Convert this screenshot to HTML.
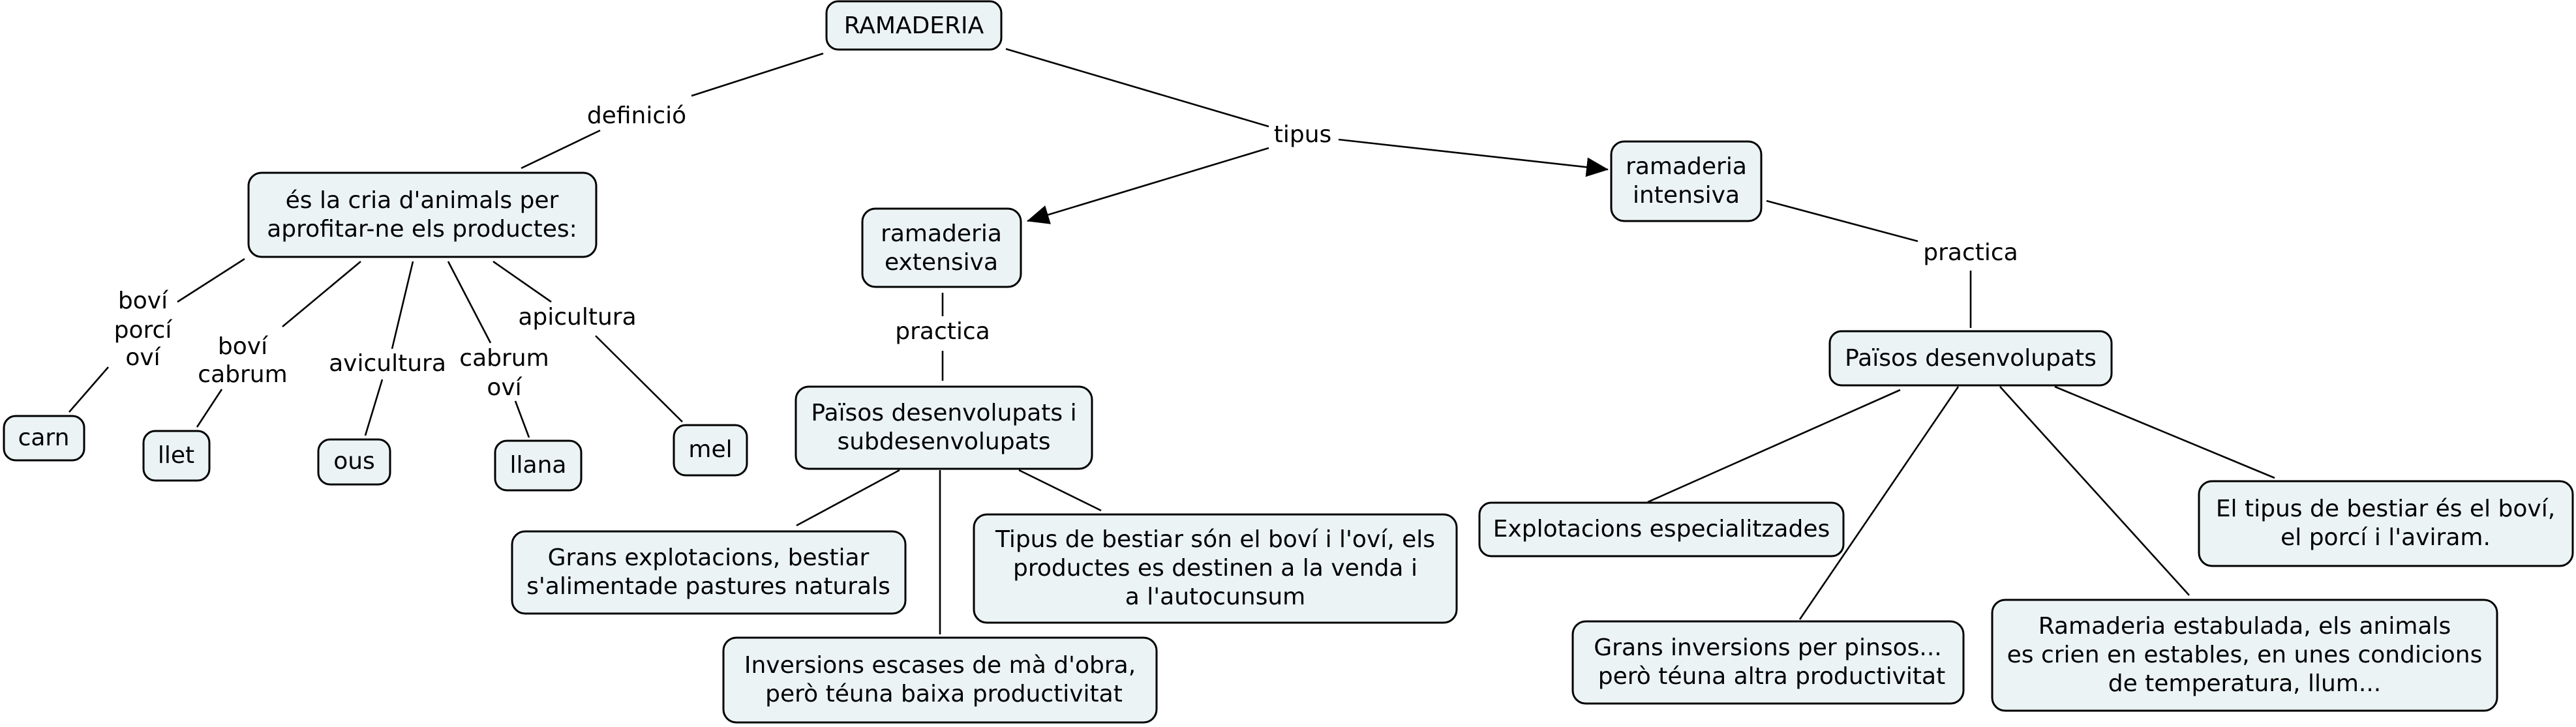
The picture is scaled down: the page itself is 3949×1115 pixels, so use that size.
<!DOCTYPE html>
<html>
<head>
<meta charset="utf-8">
<style>
  html, body { margin:0; padding:0; background:#ffffff; }
  body { width:3949px; height:1115px; overflow:hidden; }
  svg { display:block; }
  text { font-family: "DejaVu Sans", "Liberation Sans", sans-serif; font-size:36px; fill:#000; text-anchor:middle; }
  .box { fill:#ebf3f5; stroke:#000; stroke-width:3; }
  .ln { stroke:#000; stroke-width:2.6; fill:none; }
</style>
</head>
<body>
<svg width="3949" height="1115" viewBox="0 0 3949 1115" xmlns="http://www.w3.org/2000/svg">
  <defs>
    <marker id="arr" markerUnits="userSpaceOnUse" markerWidth="34" markerHeight="30" refX="33" refY="15" orient="auto">
      <path d="M0,0 L34,15 L0,30 z" fill="#000"/>
    </marker>
  </defs>

  <!-- connectors -->
  <line class="ln" x1="1262" y1="82" x2="1060" y2="147"/>
  <line class="ln" x1="920" y1="200" x2="799" y2="258"/>
  <line class="ln" x1="1542" y1="75" x2="1945" y2="194"/>
  <line class="ln" x1="1945" y1="227" x2="1575" y2="339" marker-end="url(#arr)"/>
  <line class="ln" x1="2052" y1="214" x2="2465" y2="260" marker-end="url(#arr)"/>

  <line class="ln" x1="1445" y1="449" x2="1445" y2="485"/>
  <line class="ln" x1="1445" y1="538" x2="1445" y2="584"/>
  <line class="ln" x1="2708" y1="308" x2="2940" y2="370"/>
  <line class="ln" x1="3021" y1="415" x2="3021" y2="503"/>

  <line class="ln" x1="1379" y1="721" x2="1221" y2="806"/>
  <line class="ln" x1="1441" y1="721" x2="1441" y2="973"/>
  <line class="ln" x1="1562" y1="721" x2="1688" y2="783"/>

  <line class="ln" x1="2913" y1="598" x2="2526" y2="770"/>
  <line class="ln" x1="3002" y1="593" x2="2759" y2="950"/>
  <line class="ln" x1="3066" y1="593" x2="3356" y2="913"/>
  <line class="ln" x1="3150" y1="593" x2="3487" y2="733"/>

  <line class="ln" x1="375" y1="397" x2="272" y2="463"/>
  <line class="ln" x1="166" y1="563" x2="106" y2="632"/>
  <line class="ln" x1="553" y1="401" x2="433" y2="501"/>
  <line class="ln" x1="340" y1="597" x2="302" y2="655"/>
  <line class="ln" x1="633" y1="401" x2="601" y2="535"/>
  <line class="ln" x1="586" y1="582" x2="560" y2="668"/>
  <line class="ln" x1="687" y1="401" x2="752" y2="526"/>
  <line class="ln" x1="790" y1="615" x2="811" y2="671"/>
  <line class="ln" x1="756" y1="401" x2="845" y2="463"/>
  <line class="ln" x1="913" y1="515" x2="1046" y2="647"/>

  <!-- boxes -->
  <rect class="box" x="1267" y="2" width="268" height="74" rx="18"/>
  <text x="1401" y="51">RAMADERIA</text>

  <rect class="box" x="381" y="265" width="533" height="129" rx="20"/>
  <text x="647" y="319">és la cria d'animals per</text>
  <text x="647" y="363">aprofitar-ne els productes:</text>

  <rect class="box" x="1322" y="320" width="243" height="120" rx="20"/>
  <text x="1443" y="370">ramaderia</text>
  <text x="1443" y="414">extensiva</text>

  <rect class="box" x="2470" y="217" width="230" height="122" rx="20"/>
  <text x="2585" y="267">ramaderia</text>
  <text x="2585" y="311">intensiva</text>

  <rect class="box" x="1220" y="593" width="454" height="126" rx="20"/>
  <text x="1447" y="645">Països desenvolupats i</text>
  <text x="1447" y="689">subdesenvolupats</text>

  <rect class="box" x="2805" y="508" width="432" height="83" rx="18"/>
  <text x="3021" y="561">Països desenvolupats</text>

  <rect class="box" x="785" y="815" width="603" height="126" rx="20"/>
  <text x="1086" y="867">Grans explotacions, bestiar</text>
  <text x="1086" y="911">s'alimentade pastures naturals</text>

  <rect class="box" x="1109" y="978" width="664" height="130" rx="20"/>
  <text x="1441" y="1032">Inversions escases de mà d'obra,</text>
  <text x="1447" y="1076">però téuna baixa productivitat</text>

  <rect class="box" x="1493" y="789" width="740" height="166" rx="20"/>
  <text x="1863" y="839">Tipus de bestiar són el boví i l'oví, els</text>
  <text x="1863" y="883">productes es destinen a la venda i</text>
  <text x="1863" y="927">a l'autocunsum</text>

  <rect class="box" x="2268" y="771" width="558" height="82" rx="18"/>
  <text x="2547" y="823">Explotacions especialitzades</text>

  <rect class="box" x="3371" y="738" width="573" height="130" rx="20"/>
  <text x="3657" y="792">El tipus de bestiar és el boví,</text>
  <text x="3657" y="836">el porcí i l'aviram.</text>

  <rect class="box" x="2411" y="953" width="599" height="126" rx="20"/>
  <text x="2710" y="1005">Grans inversions per pinsos...</text>
  <text x="2716" y="1049">però téuna altra productivitat</text>

  <rect class="box" x="3054" y="920" width="774" height="170" rx="20"/>
  <text x="3441" y="972">Ramaderia estabulada, els animals</text>
  <text x="3441" y="1016">es crien en estables, en unes condicions</text>
  <text x="3441" y="1060">de temperatura, llum...</text>

  <rect class="box" x="6" y="638" width="123" height="68" rx="18"/>
  <text x="67" y="683">carn</text>

  <rect class="box" x="220" y="661" width="101" height="76" rx="18"/>
  <text x="270" y="710">llet</text>

  <rect class="box" x="488" y="674" width="110" height="69" rx="18"/>
  <text x="543" y="719">ous</text>

  <rect class="box" x="759" y="676" width="132" height="76" rx="18"/>
  <text x="825" y="725">llana</text>

  <rect class="box" x="1033" y="652" width="112" height="77" rx="18"/>
  <text x="1089" y="701">mel</text>

  <!-- linking labels -->
  <text x="976" y="189">definició</text>
  <text x="1997" y="218">tipus</text>
  <text x="1445" y="520">practica</text>
  <text x="3021" y="399">practica</text>

  <text x="219" y="473">boví</text>
  <text x="219" y="518">porcí</text>
  <text x="219" y="560">oví</text>

  <text x="372" y="543">boví</text>
  <text x="372" y="586">cabrum</text>

  <text x="594" y="569">avicultura</text>

  <text x="773" y="561">cabrum</text>
  <text x="773" y="606">oví</text>

  <text x="885" y="498">apicultura</text>
</svg>
</body>
</html>
